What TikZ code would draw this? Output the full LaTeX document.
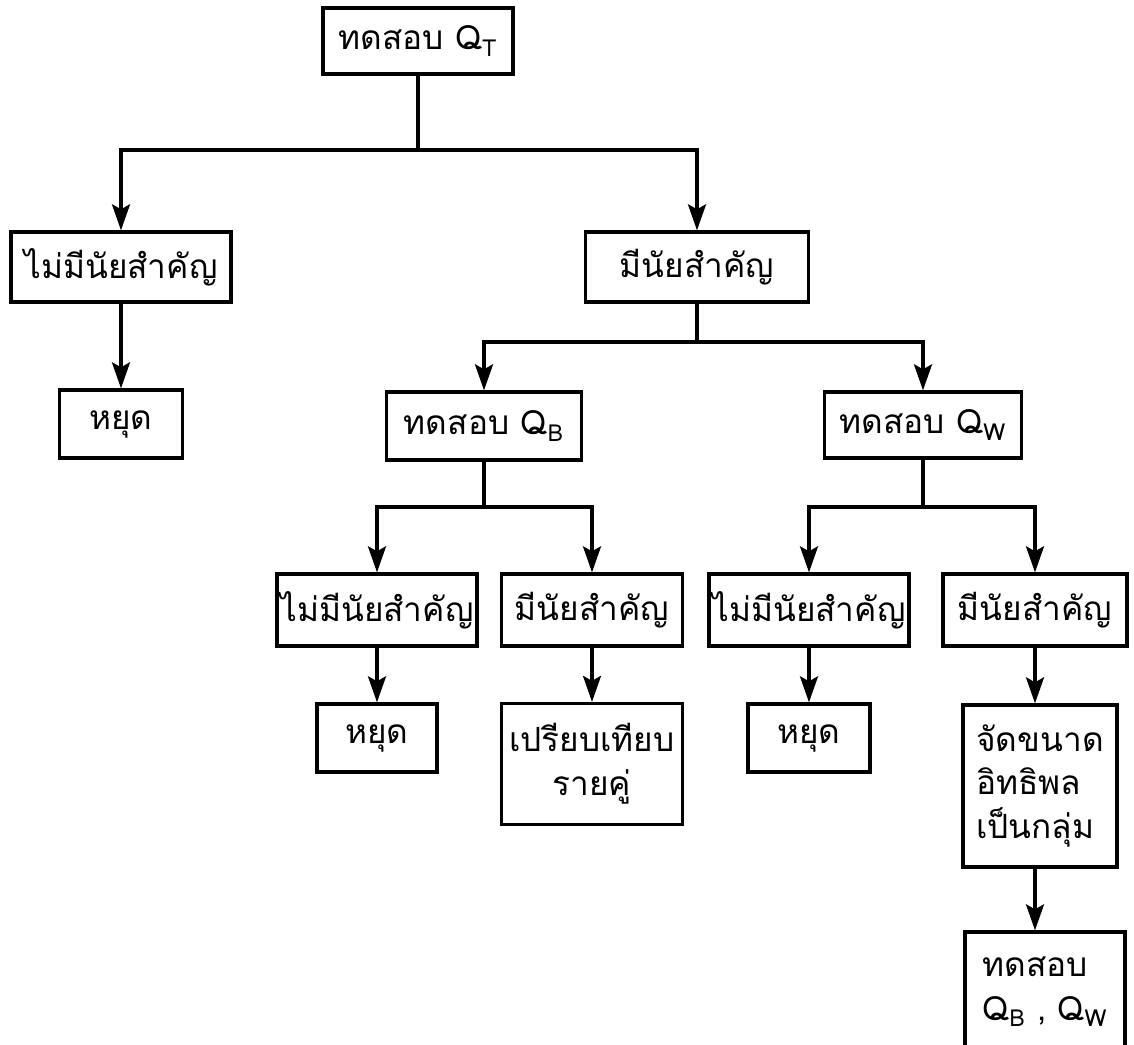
\documentclass[tikz,border=0pt]{standalone}
\usepackage{fontspec}
\newfontfamily\thaifont[Script=Thai]{Loma}
\usetikzlibrary{arrows.meta}
\begin{document}
\begin{tikzpicture}[x=0.02cm, y=-0.02cm,
  box/.style={draw, line width=1.9pt, inner sep=2pt, font=\thaifont\fontsize{19}{25}\selectfont},
  arr/.style={line width=1.9pt, -{Stealth[length=0.52cm, width=0.36cm, inset=0.1cm]}},
  ln/.style={line width=1.9pt}]
\useasboundingbox (0,0) rectangle (1134,1045);
\node[box, minimum width=3.8cm, minimum height=1.32cm] (b0) at (418,41){ทดสอบ Q\textsubscript{T}};
\node[box, minimum width=4.4cm, minimum height=1.4cm] (b1) at (121,267){ไม่มีนัยสำคัญ};
\node[box, minimum width=4.46cm, minimum height=1.4cm] (b2) at (697,267){มีนัยสำคัญ};
\node[box, minimum width=2.46cm, minimum height=1.36cm] (b3) at (121,424){หยุด};
\node[box, minimum width=3.9cm, minimum height=1.36cm] (b4) at (484,426){ทดสอบ Q\textsubscript{B}};
\node[box, minimum width=3.94cm, minimum height=1.32cm] (b5) at (923,425){ทดสอบ Q\textsubscript{W}};
\node[box, minimum width=3.58cm, minimum height=1.44cm] (b6) at (377,610){ไม่มีนัยสำคัญ};
\node[box, minimum width=3.62cm, minimum height=1.44cm] (b7) at (592,610){มีนัยสำคัญ};
\node[box, minimum width=3.64cm, minimum height=1.44cm] (b8) at (809,610){ไม่มีนัยสำคัญ};
\node[box, minimum width=3.68cm, minimum height=1.44cm] (b9) at (1035,610){มีนัยสำคัญ};
\node[box, minimum width=2.4cm, minimum height=1.36cm] (b10) at (377,738){หยุด};
\node[box, minimum width=3.62cm, minimum height=2.42cm, align=center] (b11) at (592,764){เปรียบเทียบ\\รายคู่};
\node[box, minimum width=2.44cm, minimum height=1.36cm] (b12) at (809,738){หยุด};
\node[box, minimum width=3.08cm, minimum height=3.24cm, align=left] (b13) at (1040,786){จัดขนาด\\อิทธิพล\\เป็นกลุ่ม};
\node[box, minimum width=3.2cm, minimum height=2.4cm, align=left] (b14) at (1045,992){ทดสอบ\\Q\textsubscript{B} , Q\textsubscript{W}};
% branch points
\coordinate (j0) at (418,150);
\coordinate (j1) at (697,342);
\coordinate (j2) at (484,507);
\coordinate (j3) at (923,507);
\draw[ln](b0) -- (j0);
\draw[arr](j0) -| (b1);
\draw[arr](j0) -| (b2);
\draw[arr](b1) -- (b3);
\draw[ln](b2) -- (j1);
\draw[arr](j1) -| (b4);
\draw[arr](j1) -| (b5);
\draw[ln](b4) -- (j2);
\draw[arr](j2) -| (b6);
\draw[arr](j2) -| (b7);
\draw[ln](b5) -- (j3);
\draw[arr](j3) -| (b8);
\draw[arr](j3) -| (b9);
\draw[arr](b6) -- (b10);
\draw[arr](b7) -- (b11);
\draw[arr](b8) -- (b12);
\draw[arr](b9) -- (b9 |- b13.north);
\draw[arr](b13.south -| b9) -- (b9 |- b14.north);
\end{tikzpicture}
\end{document}
